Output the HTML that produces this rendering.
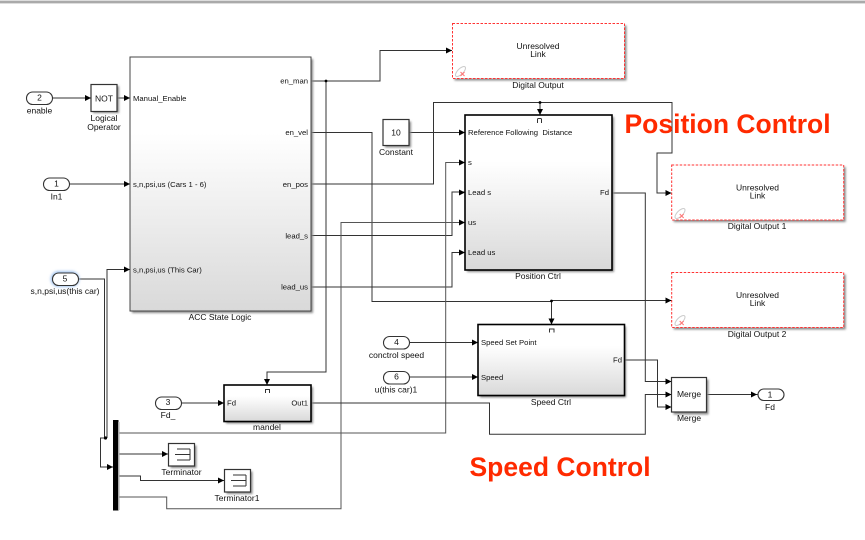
<!DOCTYPE html>
<html><head><meta charset="utf-8"><style>
html,body{margin:0;padding:0;background:#fff;width:865px;height:540px;overflow:hidden}
svg{display:block;filter:blur(.35px)}
text{font-family:"Liberation Sans",sans-serif;fill:#111;font-size:8.5px}
.p{font-size:7.7px}
.c{text-anchor:middle}
.e{text-anchor:end}
.r{font-size:26.5px;font-weight:bold;fill:#ff2a00}
.w{fill:none;stroke:#333;stroke-width:1}
.b{stroke:#333;stroke-width:1.2;fill:#fff}
.k{stroke:#000;stroke-width:1.6}
.u{fill:#fff;stroke:#f33;stroke-width:1;stroke-dasharray:2.5 1.5}
.s{fill:#888;filter:url(#sh)}
</style></head><body>
<svg width="865" height="540" viewBox="0 0 865 540" xmlns="http://www.w3.org/2000/svg">
<defs>
<linearGradient id="g" x1="0" y1="0" x2="0" y2="1"><stop offset=".3" stop-color="#fff"/><stop offset="1" stop-color="#d9d9d9"/></linearGradient>
<filter id="sh" x="-10%" y="-10%" width="120%" height="120%"><feGaussianBlur stdDeviation="1"/></filter>
<filter id="gl" x="-30%" y="-50%" width="160%" height="200%"><feGaussianBlur stdDeviation="1.2"/></filter>
<path id="a" d="M-6,-3 L0,0 L-6,3z" fill="#000"/>
<path id="d" d="M-3,-6 L3,-6 L0,0z" fill="#000"/>
</defs>
<rect x="0" y="0" width="865" height="1" fill="#ddd"/>
<rect x="0" y="1" width="865" height="2" fill="#aaa"/>
<rect x="0" y="3" width="865" height="1" fill="#ddd"/>

<!-- wires -->
<g class="w">
<path d="M52.5 98H91"/><path d="M117 98H130"/><path d="M69.5 184H130"/>
<path d="M78 279H104.500V438H100.5V467H113"/>
<path d="M130 269.5H107V438"/>
<path d="M311 81H380V50.5H452"/>
<path d="M326 81V372H267V385"/>
<path d="M311 132.5H372V301.500H551.500"/>
<path d="M551.500 301V324.5"/>
<path d="M551.500 300.500H672"/>
<path d="M311 184H433.5V102.5H672V153H657V193H672"/>
<path d="M540 102.5V115"/>
<path d="M409 132.5H465"/>
<path d="M311 235.5H452V192H465"/>
<path d="M311 287H452V252.5H465"/>
<path d="M465 162.5H445.7V433H118" stroke="#555"/>
<path d="M465 222.5H341V508.7H166.7V497H118" stroke="#555"/>
<path d="M612 193H645.3V381.5H671.5"/>
<path d="M624.5 360H657.5V407H671.5"/>
<path d="M311 403H489.5V434.3H645.3V394.5H671.5"/>
<path d="M706.5 394.5H758"/>
<path d="M408 342.5H478"/><path d="M408 377H478"/>
<path d="M181 403H224"/>
<path d="M118 454H168"/>
<path d="M118 476H140.5V480.5H224"/>
</g>
<g>
<circle cx="326" cy="81" r="1.4"/><circle cx="540" cy="102.5" r="1.4"/><circle cx="551.5" cy="301" r="1.4"/><circle cx="105.5" cy="438" r="1.6"/>
</g>

<!-- ACC -->
<rect class="s" x="132" y="59" width="181" height="254"/>
<rect x="130" y="57" width="181" height="254" fill="url(#g)" stroke="#444" stroke-width="1"/>
<text class="p" x="133" y="101">Manual_Enable</text>
<text class="p" x="133" y="187">s,n,psi,us (Cars 1 - 6)</text>
<text class="p" x="133" y="272.500">s,n,psi,us (This Car)</text>
<text class="p e" x="308" y="83.500">en_man</text>
<text class="p e" x="308" y="135">en_vel</text>
<text class="p e" x="308" y="187">en_pos</text>
<text class="p e" x="308" y="238.500">lead_s</text>
<text class="p e" x="308" y="289.500">lead_us</text>
<text class="c" x="220" y="320">ACC State Logic</text>

<!-- NOT -->
<rect class="s" x="93" y="86" width="26" height="27"/>
<rect class="b" x="91" y="84.500" width="26" height="27"/>
<text class="c" x="104" y="101.500" style="font-size:8.500px">NOT</text>
<text class="c" x="104" y="121">Logical</text><text class="c" x="104" y="130">Operator</text>

<!-- inports -->
<rect x="50.500" y="271" width="29" height="16" rx="8" fill="#a9c9f2" filter="url(#gl)"/>
<g fill="#fff" stroke="#333" stroke-width="1.1">
<rect x="26.500" y="92" width="26" height="12.500" rx="6.200"/>
<rect x="43.500" y="178" width="26" height="12.500" rx="6.200"/>
<rect x="52.500" y="273" width="26" height="12.500" rx="6.200"/>
<rect x="155.500" y="397" width="26" height="12.500" rx="6.200"/>
<rect x="383.500" y="336.500" width="26" height="12.500" rx="6.200"/>
<rect x="383.500" y="371.500" width="26" height="12.500" rx="6.200"/>
<rect x="758" y="389" width="26" height="11.500" rx="5.800"/>
</g>
<text class="c" x="39.500" y="100.500">2</text><text class="c" x="39.500" y="113.500">enable</text>
<text class="c" x="56.500" y="186.500">1</text><text class="c" x="56.500" y="199.500">In1</text>
<text class="c" x="65" y="281.500">5</text><text class="c" x="65" y="294">s,n,psi,us(this car)</text>
<text class="c" x="168" y="405">3</text><text class="c" x="168" y="418">Fd_</text>
<text class="c" x="396.500" y="345">4</text><text class="c" x="396.500" y="358">conctrol speed</text>
<text class="c" x="396.500" y="379.500">6</text><text class="c" x="396" y="392.500">u(this car)1</text>
<text class="c" x="770" y="397.500">1</text><text class="c" x="770" y="410">Fd</text>

<!-- Constant -->
<rect class="s" x="385" y="121.500" width="26" height="26"/>
<rect class="b" x="383" y="119.500" width="26" height="26"/>
<text class="c" x="396" y="135.500" style="font-size:8.500px">10</text>
<text class="c" x="396" y="155">Constant</text>

<!-- Unresolved -->
<g>
<rect class="s" x="454.500" y="25.500" width="172" height="55"/>
<rect class="u" x="452.500" y="23.500" width="172" height="55"/>
<text class="c" x="538" y="49">Unresolved</text><text class="c" x="538" y="57">Link</text>
<text class="c" x="538" y="88">Digital Output</text>
<rect class="s" x="673.700" y="167" width="172" height="55"/>
<rect class="u" x="671.700" y="165" width="172" height="55"/>
<text class="c" x="757.500" y="190.500">Unresolved</text><text class="c" x="757.500" y="198.500">Link</text>
<text class="c" x="757" y="229">Digital Output 1</text>
<rect class="s" x="673.700" y="274.500" width="172" height="55"/>
<rect class="u" x="671.700" y="272.500" width="172" height="55"/>
<text class="c" x="757.500" y="298">Unresolved</text><text class="c" x="757.500" y="306">Link</text>
<text class="c" x="757" y="337">Digital Output 2</text>
</g>
<g fill="none" stroke="#ccc" stroke-width="1">
<ellipse cx="460.500" cy="71.500" rx="6.500" ry="2.800" transform="rotate(-45 460.500 71.500)"/>
<ellipse cx="680" cy="213.500" rx="6.500" ry="2.800" transform="rotate(-45 680 213.500)"/>
<ellipse cx="680" cy="320.500" rx="6.500" ry="2.800" transform="rotate(-45 680 320.500)"/>
</g>
<g stroke="#f77" stroke-width="1.100">
<path d="M460.500 72l4 4m0-4l-4 4"/><path d="M679.700 214l4 4m0-4l-4 4"/><path d="M679.700 321l4 4m0-4l-4 4"/>
</g>

<!-- Position Ctrl -->
<rect class="s" x="467" y="117" width="147" height="155"/>
<rect class="k" x="465" y="115" width="147" height="155" fill="url(#g)"/>
<text class="p" x="468" y="135">Reference Following&#160;&#160;Distance</text>
<text class="p" x="468" y="165">s</text>
<text class="p" x="468" y="195">Lead s</text>
<text class="p" x="468" y="225">us</text>
<text class="p" x="468" y="255">Lead us</text>
<text class="p e" x="609" y="195">Fd</text>
<path class="w" d="M537.500 123V119.500Q537.500 118.500 538.500 118.500H540.500Q541.500 118.500 541.500 119.500V123" stroke-width=".8"/>
<text class="c" x="538" y="279">Position Ctrl</text>

<!-- Speed Ctrl -->
<rect class="s" x="480" y="326.500" width="146" height="71"/>
<rect class="k" x="478" y="324.500" width="146.500" height="71" fill="url(#g)"/>
<text class="p" x="481" y="345">Speed Set Point</text>
<text class="p" x="481" y="380">Speed</text>
<text class="p e" x="622" y="362.500">Fd</text>
<path class="w" d="M549.500 332.500V329H554V332.500" stroke-width=".8"/>
<text class="c" x="551" y="405">Speed Ctrl</text>

<!-- mandel -->
<rect class="s" x="226" y="387" width="87" height="36.500"/>
<rect class="k" x="224" y="385" width="87" height="36.500" fill="url(#g)"/>
<text class="p" x="227" y="405.500">Fd</text>
<text class="p e" x="308" y="405.500">Out1</text>
<path class="w" d="M265.500 393V389.500H269.500V393" stroke-width=".8"/>
<text class="c" x="267" y="430">mandel</text>

<!-- Merge -->
<rect class="s" x="673.500" y="379.500" width="35" height="35"/>
<rect class="b" x="671.500" y="377.500" width="35" height="34.500"/>
<text class="c" x="689" y="397" style="font-size:8.500px">Merge</text>
<text class="c" x="689" y="421">Merge</text>

<!-- Bus -->
<rect x="113" y="420" width="5.500" height="90.500" fill="#000"/>
<rect x="118" y="422" width="1.500" height="88" fill="#aaa"/>

<!-- Terminators -->
<rect class="s" x="170.500" y="445.500" width="26" height="22.500"/>
<rect class="b" x="168.500" y="443.500" width="26" height="22.500"/>
<path class="w" d="M175 454.500H190M190 449V460M177 449H190M177 460H190" stroke-width=".8"/>
<text class="c" x="181.500" y="475">Terminator</text>
<rect class="s" x="226.500" y="471.500" width="26" height="22.500"/>
<rect class="b" x="224.500" y="469.500" width="26" height="22.500"/>
<path class="w" d="M231 480.500H246M246 475V486M233 475H246M233 486H246" stroke-width=".8"/>
<text class="c" x="237" y="501">Terminator1</text>

<!-- arrows -->
<use href="#a" x="91" y="98"/><use href="#a" x="130" y="98"/><use href="#a" x="130" y="184"/><use href="#a" x="130" y="269.500"/>
<use href="#a" x="452" y="50.500"/><use href="#a" x="465" y="132.500"/><use href="#a" x="465" y="162.500"/><use href="#a" x="465" y="192.500"/><use href="#a" x="465" y="222.500"/><use href="#a" x="465" y="252.500"/>
<use href="#a" x="671.500" y="193"/><use href="#a" x="671.500" y="300.500"/><use href="#a" x="478" y="342.500"/><use href="#a" x="478" y="377"/>
<use href="#a" x="671.500" y="381.500"/><use href="#a" x="671.500" y="394.500"/><use href="#a" x="671.500" y="407"/><use href="#a" x="757" y="394.500"/>
<use href="#a" x="224" y="403"/><use href="#a" x="113" y="467"/><use href="#a" x="168" y="454"/><use href="#a" x="224" y="480.500"/>
<use href="#d" x="540" y="115"/><use href="#d" x="551.500" y="324.500"/><use href="#d" x="267" y="385"/>

<text class="r" x="624.500" y="133">Position Control</text>
<text class="r" x="469.500" y="476">Speed Control</text>
</svg>
</body></html>
